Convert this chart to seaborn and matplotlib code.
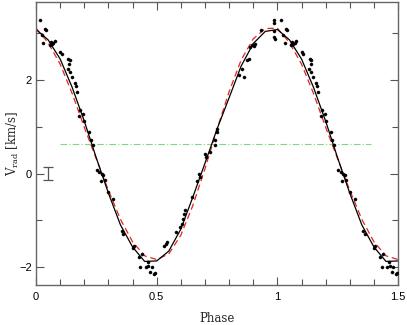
import numpy as np
import pandas as pd
import matplotlib
matplotlib.use("Agg")
import matplotlib.pyplot as plt
from matplotlib.ticker import MultipleLocator
import seaborn as sns

# model curves, phase 0..1 in steps of 0.05 (repeated to 1.5)
model_phase = [0.00, 0.05, 0.10, 0.15, 0.20, 0.25, 0.30, 0.35, 0.40, 0.45,
               0.50, 0.55, 0.60, 0.65, 0.70, 0.75, 0.80, 0.85, 0.90, 0.95, 1.00]
black_v = [3.08, 2.86, 2.45, 1.84, 1.12, 0.33, -0.42, -1.10, -1.57, -1.88,
           -1.87, -1.66, -1.19, -0.50, 0.22, 0.95, 1.62, 2.30, 2.78, 3.04, 3.08]
red_v = [3.11, 2.80, 2.34, 1.71, 0.99, 0.31, -0.36, -0.98, -1.46, -1.76,
         -1.84, -1.72, -1.32, -0.68, 0.10, 0.95, 1.75, 2.43, 2.88, 3.10, 3.11]

# observed radial velocities (phase in 0..1)
obs_phase = [0.017, 0.036, 0.040, 0.024, 0.030, 0.061, 0.065, 0.072, 0.079, 0.058,
             0.100, 0.107, 0.134, 0.141, 0.138, 0.131, 0.141, 0.148, 0.162, 0.166,
             0.169, 0.183, 0.180, 0.196, 0.200, 0.221, 0.227, 0.235, 0.252, 0.263,
             0.272, 0.279, 0.268, 0.286, 0.300, 0.321, 0.356, 0.362, 0.404, 0.401,
             0.425, 0.439, 0.432, 0.462, 0.466, 0.456, 0.473, 0.490, 0.480, 0.494,
             0.539, 0.531, 0.542, 0.581, 0.595, 0.605, 0.611, 0.618, 0.615, 0.646,
             0.667, 0.678, 0.674, 0.701, 0.705, 0.719, 0.743, 0.743, 0.750, 0.750,
             0.839, 0.860, 0.853, 0.874, 0.881, 0.888, 0.895, 0.902, 0.909, 0.932,
             0.988, 0.988, 0.985, 0.992, 0.988]
obs_v = [3.29, 3.09, 3.06, 2.97, 2.79, 2.81, 2.77, 2.79, 2.84, 2.74,
         2.60, 2.56, 2.45, 2.42, 2.35, 2.24, 2.17, 2.06, 1.93, 1.88,
         1.74, 1.36, 1.22, 1.28, 1.13, 0.88, 0.71, 0.60, 0.08, 0.03,
         -0.01, -0.04, -0.15, -0.14, -0.40, -0.54, -1.22, -1.29, -1.54, -1.60,
         -1.78, -1.72, -2.00, -1.90, -1.97, -1.99, -2.11, -2.15, -2.00, -2.13,
         -1.50, -1.54, -1.47, -1.26, -1.15, -1.08, -0.97, -0.79, -0.86, -0.51,
         -0.15, -0.08, -0.01, 0.42, 0.35, 0.46, 0.60, 0.71, 0.88, 0.95,
         2.10, 2.06, 2.24, 2.42, 2.45, 2.70, 2.74, 2.72, 2.77, 3.06,
         3.29, 3.22, 3.04, 2.88, 2.92]

gamma_v = 0.64
gamma_range = [0.10, 1.39]
err_phase, err_v, err_size = 0.05, 0.0, 0.14


def repeat_phase(ph, val, upto=1.5):
    ph = np.asarray(ph)
    val = np.asarray(val)
    keep = ph[1:] + 1 <= upto + 1e-9
    return (np.concatenate([ph, ph[1:][keep] + 1]),
            np.concatenate([val, val[1:][keep]]))


bx, by = repeat_phase(model_phase, black_v)
rx, ry = repeat_phase(model_phase, red_v)
ox = np.concatenate([obs_phase, np.asarray(obs_phase) + 1])
oy = np.concatenate([obs_v, obs_v])
m = ox <= 1.5
obs = pd.DataFrame({"phase": ox[m], "v": oy[m]})

sns.set_style("ticks")
plt.rcParams["mathtext.fontset"] = "dejavuserif"
fig = plt.figure(figsize=(4.07, 3.25), dpi=100)
ax = fig.add_axes([0.0885, 0.123, 0.8895, 0.871])

ax.plot(gamma_range, [gamma_v, gamma_v], color="#7fd87f", lw=0.8,
        ls=(0, (6, 2, 1, 2)))
sns.lineplot(x=rx, y=ry, ax=ax, color="#e8221e", lw=0.9, sort=False,
             linestyle=(0, (5, 3)))
sns.lineplot(x=bx, y=by, ax=ax, color="black", lw=0.9, sort=False)
sns.scatterplot(data=obs, x="phase", y="v", ax=ax, color="black", s=5,
                edgecolor="black", linewidth=0.3, zorder=5)
ax.errorbar([err_phase], [err_v], yerr=[err_size], color="#555555",
            lw=0.9, capsize=3.5, capthick=0.9)

ax.set_xlim(0, 1.5)
ax.set_ylim(-2.385, 3.67)
ax.xaxis.set_major_locator(MultipleLocator(0.5))
ax.xaxis.set_minor_locator(MultipleLocator(0.1))
ax.yaxis.set_major_locator(MultipleLocator(2))
ax.yaxis.set_minor_locator(MultipleLocator(1))
ax.xaxis.set_major_formatter(plt.FuncFormatter(lambda v, p: f"{v:g}"))
ax.yaxis.set_major_formatter(plt.FuncFormatter(
    lambda v, p: f"{v:g}".replace("-", "\u2212")))
ax.tick_params(which="both", direction="in", top=True, right=True,
               colors="#555555", labelcolor="black", labelsize=8)
ax.tick_params(which="major", length=5.5, width=0.8, pad=5)
ax.tick_params(axis="y", which="major", pad=3)
ax.tick_params(which="minor", length=4, width=0.8)
for lab in ax.get_xticklabels() + ax.get_yticklabels():
    lab.set_family("Liberation Sans")
for sp in ax.spines.values():
    sp.set_color("#666666")
    sp.set_linewidth(1.0)

ax.set_xlabel("Phase", family="DejaVu Serif", fontsize=8.5, labelpad=7)
ax.set_ylabel(r"V$_{\rm rad}$ [km/s]", family="DejaVu Serif", fontsize=8.5)
ax.yaxis.set_label_coords(-0.042, 0.5)

fig.savefig("out.png", dpi=100)
